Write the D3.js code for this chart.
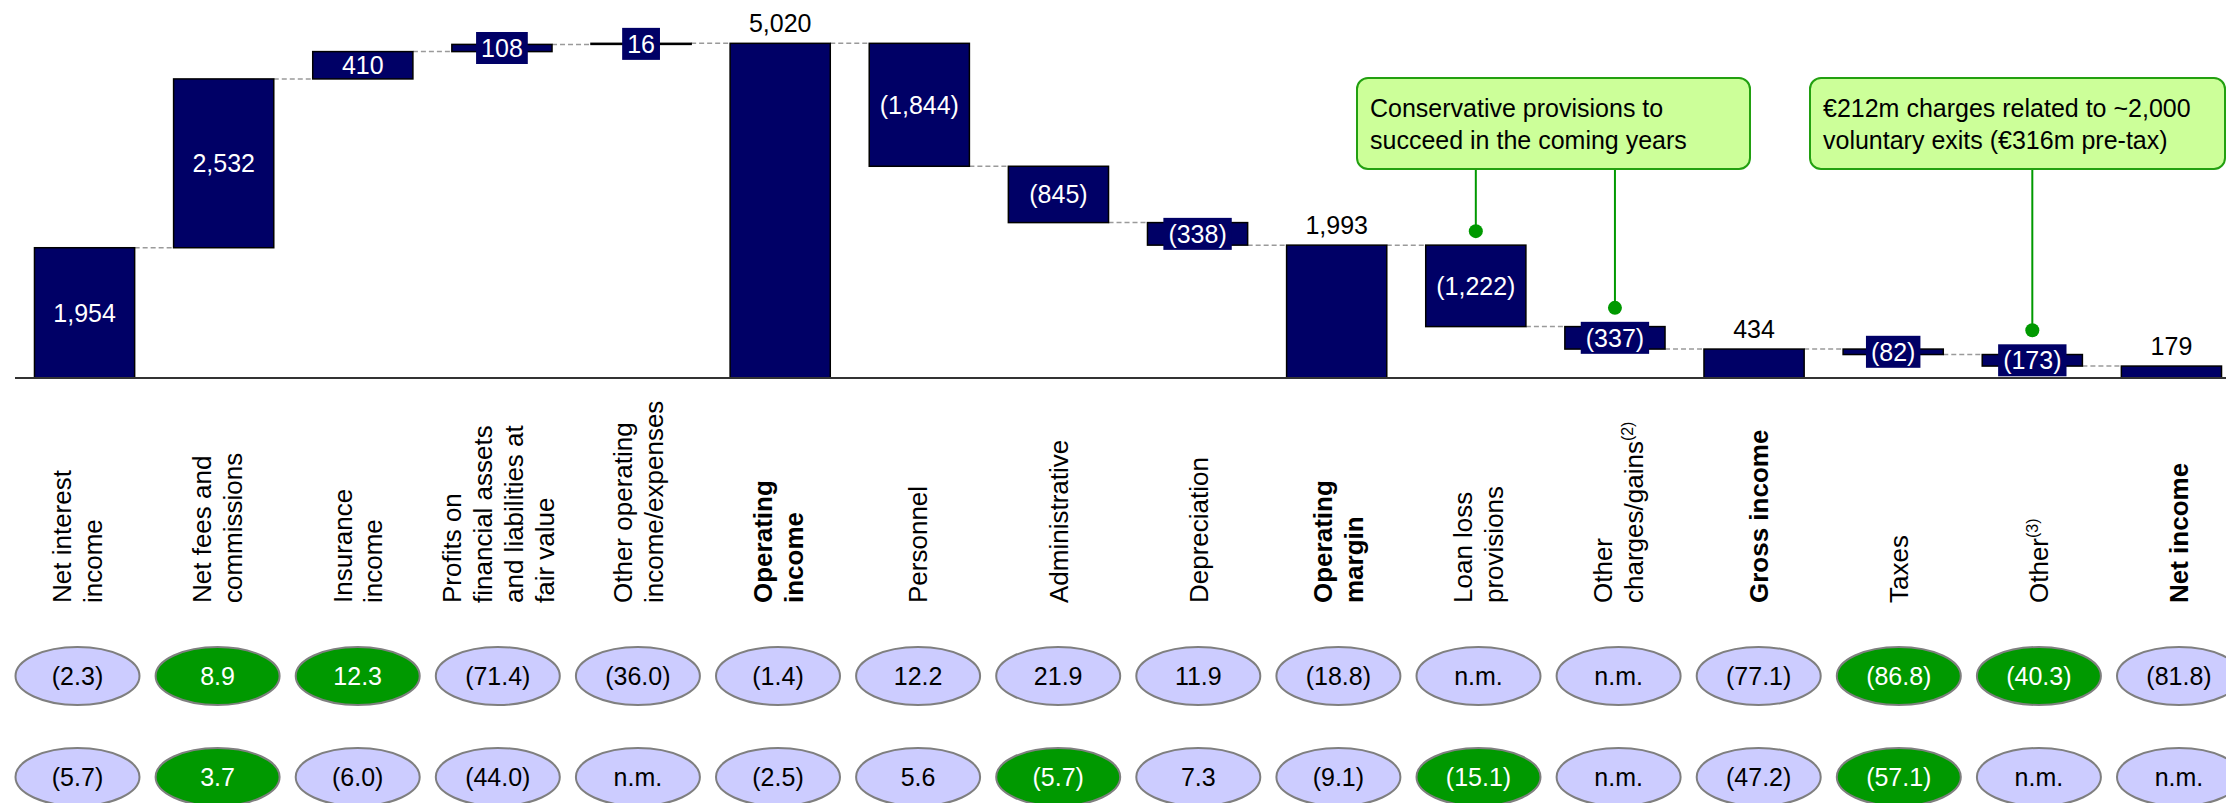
<!DOCTYPE html>
<html lang="en">
<head>
<meta charset="UTF-8">
<title>Income statement waterfall</title>
<script src="https://cdn.jsdelivr.net/npm/d3@7"></script>
<style>
  body { margin: 0; background: #fff; }
  svg { display: block; font-family: "Liberation Sans", Arial, sans-serif; }
</style>
</head>
<body>
<div id="chart"></div>
<script>
  // category labels, one entry per line ("^" starts a superscript)
  const categories = [
    ["Net interest", "income"],
    ["Net fees and", "commissions"],
    ["Insurance", "income"],
    ["Profits on", "financial assets", "and liabilities at", "fair value"],
    ["Other operating", "income/expenses"],
    ["Operating", "income"],
    ["Personnel"],
    ["Administrative"],
    ["Depreciation"],
    ["Operating", "margin"],
    ["Loan loss", "provisions"],
    ["Other", "charges/gains^(2)"],
    ["Gross income"],
    ["Taxes"],
    ["Other^(3)"],
    ["Net income"]
  ];

  // waterfall values (EUR m), totals are drawn from zero
  const values = [1954, 2532, 410, 108, 16, 5020, -1844, -845, -338, 1993, -1222, -337, 434, -82, -173, 179];
  const isTotal = [false, false, false, false, false, true, false, false, false, true, false, false, true, false, false, true];

  // two rows of % changes under the chart
  const row1 = ["(2.3)", "8.9", "12.3", "(71.4)", "(36.0)", "(1.4)", "12.2", "21.9", "11.9", "(18.8)", "n.m.", "n.m.", "(77.1)", "(86.8)", "(40.3)", "(81.8)"];
  const row1Green = [false, true, true, false, false, false, false, false, false, false, false, false, false, true, true, false];
  const row2 = ["(5.7)", "3.7", "(6.0)", "(44.0)", "n.m.", "(2.5)", "5.6", "(5.7)", "7.3", "(9.1)", "(15.1)", "n.m.", "(47.2)", "(57.1)", "n.m.", "n.m."];
  const row2Green = [false, true, false, false, false, false, false, true, false, false, true, false, false, true, false, false];

  // callout notes and the bars they point at
  const callouts = [
    { lines: ["Conservative provisions to", "succeed in the coming years"], targets: [10, 11] },
    { lines: ["\u20ac212m charges related to ~2,000", "voluntary exits (\u20ac316m pre-tax)"], targets: [14] }
  ];

  const W = 2226, H = 803;
  const NAVY = "#000066", GREEN = "#009900";

  const svg = d3.select("#chart").append("svg")
    .attr("width", W)
    .attr("height", H);

  const idx = d3.range(categories.length);

  const x = d3.scaleBand()
    .domain(idx)
    .range([15, 2241])
    .paddingInner(0.28)
    .paddingOuter(0.14);

  // labels and ellipses sit on a slightly wider grid than the bars
  const xl = d3.scalePoint()
    .domain(idx)
    .range([77.5, 2179]);

  const y = d3.scaleLinear()
    .domain([0, 5670])
    .range([378, 0]);

  // running totals
  let run = 0;
  const bars = values.map((v, i) => {
    let s, e;
    if (isTotal[i]) { s = 0; e = v; }
    else { s = run; e = run + v; }
    run = e;
    return { i: i, v: v, start: s, end: e, total: isTotal[i] };
  });

  const fmt = d3.format(",");
  const label = v => v < 0 ? "(" + fmt(-v) + ")" : fmt(v);

  // dashed connectors between bars
  svg.append("g").selectAll("line")
    .data(bars.slice(0, -1))
    .join("line")
    .attr("x1", d => x(d.i) + x.bandwidth())
    .attr("x2", d => x(d.i + 1))
    .attr("y1", d => y(d.end))
    .attr("y2", d => y(d.end))
    .attr("stroke", "#9a9a9a")
    .attr("stroke-width", 1.5)
    .attr("stroke-dasharray", "5,3");

  // bars
  svg.append("g").selectAll("rect")
    .data(bars)
    .join("rect")
    .attr("x", d => x(d.i))
    .attr("width", x.bandwidth())
    .attr("y", d => y(Math.max(d.start, d.end)))
    .attr("height", d => Math.max(1, Math.abs(y(d.start) - y(d.end))))
    .attr("fill", NAVY)
    .attr("stroke", "#000")
    .attr("stroke-width", 1.5);

  // baseline
  svg.append("line")
    .attr("x1", 15).attr("x2", W)
    .attr("y1", y(0)).attr("y2", y(0))
    .attr("stroke", "#333")
    .attr("stroke-width", 2);

  const FS = 25;
  const midY = d => (y(d.start) + y(d.end)) / 2;
  const barH = d => Math.abs(y(d.start) - y(d.end));

  // value labels
  const lab = svg.append("g")
    .attr("font-size", FS)
    .attr("text-anchor", "middle");

  bars.forEach(d => {
    const cx = x(d.i) + x.bandwidth() / 2;
    const txt = label(d.v);
    if (d.total && d.i > 0) {
      lab.append("text")
        .attr("x", cx)
        .attr("y", y(d.end) - 11)
        .attr("fill", "#000")
        .text(txt);
      return;
    }
    if (barH(d) < 25) {
      // small bar: label sits in its own navy box
      const t = lab.append("text")
        .attr("x", cx)
        .attr("y", midY(d) + 9)
        .attr("fill", "#fff")
        .text(txt);
      const w = t.node().getComputedTextLength() + 10;
      lab.insert("rect", "text")
        .attr("x", cx - w / 2)
        .attr("y", midY(d) - 16)
        .attr("width", w)
        .attr("height", 32)
        .attr("fill", NAVY);
      d.top = midY(d) - 16;
    } else {
      lab.append("text")
        .attr("x", cx)
        .attr("y", midY(d) + 9)
        .attr("fill", "#fff")
        .text(txt);
      d.top = y(Math.max(d.start, d.end));
    }
  });

  // category labels, rotated
  const cat = svg.append("g").attr("font-size", 26);
  categories.forEach((lines, i) => {
    const t = cat.append("text")
      .attr("transform", "translate(" + xl(i) + ",603) rotate(-90)")
      .attr("font-weight", isTotal[i] ? "bold" : "normal");
    const n = lines.length;
    lines.forEach((ln, k) => {
      const parts = ln.split("^");
      t.append("tspan")
        .attr("x", 0)
        .attr("y", 9.3 + (k - (n - 1) / 2) * 31)
        .text(parts[0]);
      if (parts[1]) {
        t.append("tspan")
          .attr("font-size", 16)
          .attr("dy", -10)
          .text(parts[1]);
      }
    });
  });

  // ellipse rows
  function ellipseRow(texts, greens, cy) {
    const g = svg.append("g");
    g.selectAll("ellipse")
      .data(texts)
      .join("ellipse")
      .attr("cx", (d, i) => xl(i))
      .attr("cy", cy)
      .attr("rx", 62)
      .attr("ry", 29)
      .attr("fill", (d, i) => greens[i] ? GREEN : "#ccccff")
      .attr("stroke", "#7f7f7f")
      .attr("stroke-width", 2);
    g.selectAll("text")
      .data(texts)
      .join("text")
      .attr("x", (d, i) => xl(i))
      .attr("y", cy + 9)
      .attr("text-anchor", "middle")
      .attr("font-size", FS)
      .attr("fill", (d, i) => greens[i] ? "#fff" : "#000")
      .text(d => d);
  }
  ellipseRow(row1, row1Green, 676);
  ellipseRow(row2, row2Green, 777);

  // callouts
  const boxes = [[1357, 1750], [1810, 2225]];
  callouts.forEach((c, k) => {
    const g = svg.append("g");
    const bx0 = boxes[k][0], bx1 = boxes[k][1];
    c.targets.forEach(ti => {
      const cx = x(ti) + x.bandwidth() / 2;
      const dy = bars[ti].top - 14;
      g.append("line")
        .attr("x1", cx).attr("x2", cx)
        .attr("y1", 169).attr("y2", dy)
        .attr("stroke", GREEN)
        .attr("stroke-width", 2);
      g.append("circle")
        .attr("cx", cx).attr("cy", dy)
        .attr("r", 7)
        .attr("fill", GREEN);
    });
    g.append("rect")
      .attr("x", bx0).attr("y", 78)
      .attr("width", bx1 - bx0).attr("height", 91)
      .attr("rx", 11)
      .attr("fill", "#ccff99")
      .attr("stroke", "#22a010")
      .attr("stroke-width", 2);
    c.lines.forEach((ln, j) => {
      g.append("text")
        .attr("x", bx0 + 13)
        .attr("y", 117 + j * 32)
        .attr("font-size", FS)
        .text(ln);
    });
  });
</script>
</body>
</html>
